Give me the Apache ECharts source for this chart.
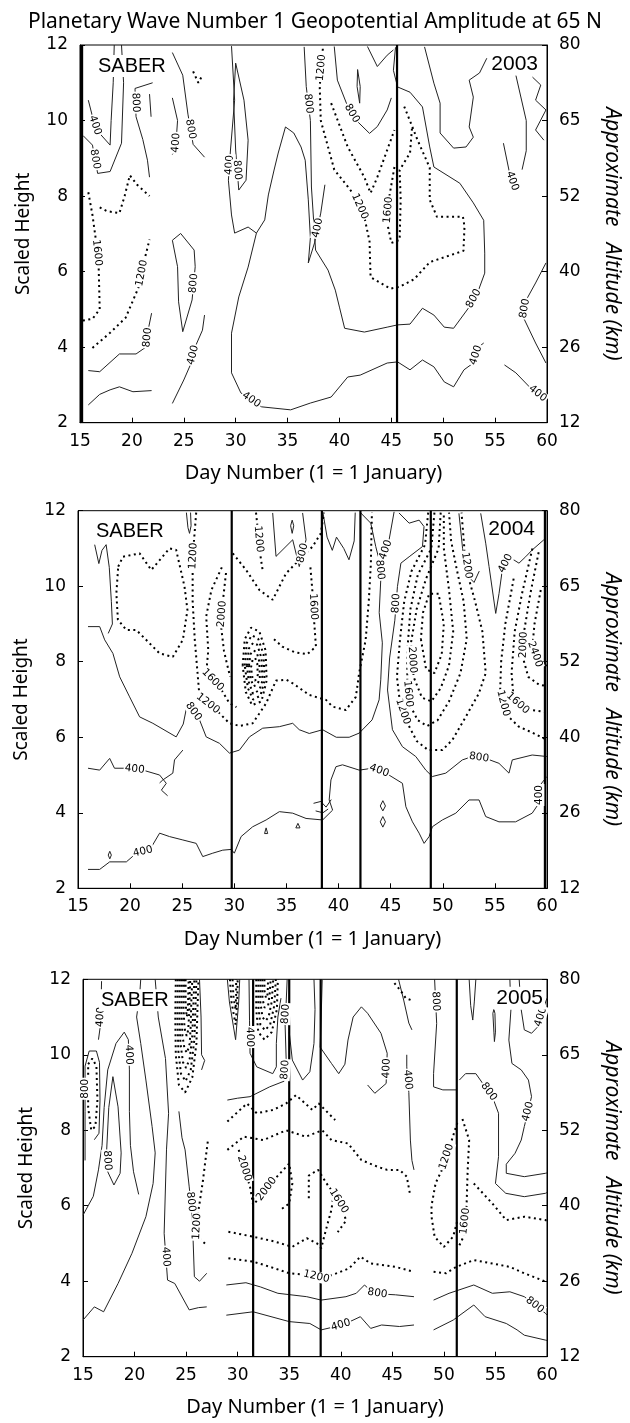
<!DOCTYPE html>
<html>
<head>
<meta charset="utf-8">
<script src="https://cdn.jsdelivr.net/npm/echarts@6/dist/echarts.min.js"></script>
<style>
  html, body { margin: 0; padding: 0; background: #fff; }
  #chart { width: 630px; height: 1423px; }
</style>
</head>
<body>
<div id="chart"></div>
<script>
// Right-hand altitude labels for scaled heights 2, 4, ..., 12
const altitudeKm = ['12', '26', '40', '52', '65', '80'];
const years = ['2003', '2004', '2005'];

// Days marked with vertical lines in each winter
const eventDays2003 = [15.2, 45.55];
const eventDays2004 = [29.75, 38.4, 42.1, 48.85, 59.8];
const eventDays2005 = [31.5, 35.0, 38.05, 51.25];

// Contours: [level (m), segments that carry the level label, [[day, scaled height], ...]]
const contours2003 = [
  [400, [], [[15.8,2.47],[16.9,2.75],[17.9,2.87],[18.8,2.95],[20.1,2.82],[21.9,2.85]]],
  [800, [4], [[15.8,3.38],[16.9,3.35],[18.8,3.82],[20.4,3.82],[21.4,4.01],[21.6,4.5],[21.9,4.9]]],
  [1200, [3], [[16.2,3.98],[17.9,4.38],[19.4,4.78],[20.7,5.62],[21.2,6.3],[21.7,6.85]]],
  [1600, [2], [[15.8,8.1],[16.2,7.5],[16.5,6.9],[16.8,6.1],[16.9,5.0],[16.2,4.75],[15.2,4.7]]],
  [1200, [], [[16.9,7.7],[17.6,7.6],[18.8,7.55],[19.3,8.0],[19.8,8.55],[20.5,8.3],[21.7,8.0]]],
  [400, [1], [[15.8,10.54],[16.3,10.0],[16.6,9.75],[17.9,9.35],[18.0,10.0],[18.2,11.0],[18.3,12.0]]],
  [800, [1], [[15.3,9.6],[16.2,9.35],[16.7,8.6],[17.9,8.65],[19.0,9.4],[19.2,11.0],[19.0,12.0]]],
  [800, [1], [[22.0,11.0],[20.3,10.85],[20.4,10.1],[21.05,9.5],[21.5,8.95],[21.7,8.5]]],
  [800, [], [[21.7,10.7],[21.85,10.1]]],
  [400, [2], [[23.9,10.6],[24.4,10.0],[24.3,9.6],[24.2,9.22],[23.9,9.1]]],
  [800, [2], [[23.9,11.8],[24.9,11.2],[25.4,10.17],[25.9,9.37],[27.0,9.03]]],
  [800, [3], [[23.9,6.83],[24.7,7.01],[26.0,6.57],[26.1,6.13],[25.8,5.25],[24.9,4.41],[24.5,5.2],[24.4,6.13],[23.9,6.83]]],
  [400, [2], [[23.9,2.51],[25.0,3.13],[25.7,3.57],[26.1,4.01],[26.8,4.45],[27.0,4.85]]],
  [1200, [], [[25.9,11.3],[26.4,11.0],[26.8,11.2]]],
  [400, [2, 12, 27], [[29.6,11.97],[29.9,10.54],[29.5,9.22],[29.3,8.42],[29.6,7.5],[29.9,7.02],[31.2,7.18],[32.0,7.02],[31.2,6.12],[30.3,5.33],[29.6,4.37],[29.6,3.32],[30.5,2.79],[32.5,2.42],[35.3,2.34],[37.2,2.52],[39.2,2.68],[40.8,3.21],[42.0,3.26],[44.6,3.58],[45.6,3.61],[46.8,3.4],[48.0,3.66],[49.1,3.48],[50.1,3.08],[51.0,2.95],[52.0,3.4],[52.9,3.58],[53.4,4.0],[53.9,4.11]]],
  [800, [4], [[30.0,11.52],[30.8,10.54],[31.2,9.48],[31.0,8.42],[30.3,8.16],[30.0,9.22],[29.8,10.54],[30.0,11.52]]],
  [400, [12], [[32.0,7.02],[32.8,7.37],[33.15,8.03],[33.7,8.69],[34.1,9.14],[34.8,9.83],[35.6,9.67],[36.3,9.3],[36.7,8.95],[37.0,7.9],[37.2,6.9],[37.0,6.23],[37.6,6.76],[38.2,7.55],[38.6,8.3]]],
  [800, [1, 17], [[36.6,11.95],[36.8,10.9],[37.2,10.0],[37.3,8.24],[37.7,6.57],[38.9,6.04],[39.6,5.51],[40.0,5.06],[40.5,4.5],[42.4,4.4],[44.6,4.53],[45.6,4.59],[46.8,4.61],[48.0,5.03],[49.1,4.85],[50.1,4.53],[51.0,4.5],[52.5,5.06],[53.4,5.51],[54.0,5.96],[54.0,6.49],[53.9,7.36],[52.9,7.82],[51.6,8.34],[49.1,8.77],[48.7,9.3],[48.0,10.36],[46.8,10.75],[45.6,10.89],[45.2,11.33],[45.4,11.94]]],
  [800, [2], [[39.5,11.96],[39.8,11.07],[40.8,10.37],[41.6,10.01],[42.9,9.66],[43.65,9.84],[44.6,10.28],[45.0,10.6]]],
  [800, [], [[41.75,11.35],[42.0,10.9],[41.95,10.46],[41.7,10.9],[41.75,11.35]]],
  [800, [], [[42.7,11.96],[43.65,11.43],[44.6,11.73],[45.2,11.87]]],
  [400, [], [[48.2,11.95],[49.1,10.99],[49.7,10.46],[49.7,9.67],[51.0,9.27],[52.2,9.3],[52.9,9.56],[52.5,9.83],[52.9,10.62],[52.5,11.07],[53.5,11.26],[54.2,11.65]]],
  [400, [1], [[55.8,9.4],[56.4,8.6],[56.9,8.2]]],
  [400, [], [[57.0,11.2],[58.0,10.0],[58.0,9.2],[57.6,8.7]]],
  [400, [], [[58.6,11.15],[59.4,10.94],[58.9,10.54],[59.9,10.28],[58.9,9.75],[59.7,9.48]]],
  [800, [2], [[59.9,6.23],[58.9,5.7],[58.0,5.25],[57.7,4.8],[58.9,4.11],[59.9,3.58]]],
  [400, [2], [[55.9,3.53],[57.0,3.32],[58.3,2.95],[59.9,2.6]]],
  [1200, [0, 5], [[38.4,11.9],[38.1,10.9],[38.2,10.0],[39.5,8.7],[40.8,8.25],[41.5,8.0],[42.4,7.45],[42.9,6.8],[43.0,5.85],[44.9,5.55],[45.8,5.6],[47.2,5.8],[48.7,6.25],[50.3,6.4],[51.95,6.55],[52.05,7.2],[51.9,7.45],[49.4,7.45],[48.7,7.9],[48.7,8.75],[47.5,9.5],[47.0,9.85],[46.2,10.4]]],
  [1600, [], [[39.2,10.46],[40.8,9.3],[42.4,8.5],[43.0,8.08],[43.65,8.5],[45.3,9.75]]],
  [1600, [1], [[45.3,8.77],[44.8,7.98],[44.6,7.29],[45.0,6.76],[45.8,6.84],[45.9,7.9],[45.8,8.69],[46.8,9.14],[47.0,9.83]]]
];

const contours2004 = [
  [400, [4, 28, 45], [[15.96,2.5],[17.08,2.5],[18.04,2.7],[19.64,2.7],[20.6,2.93],[21.87,3.01],[22.83,3.46],[23.78,3.37],[25.06,3.28],[26.34,3.19],[26.97,2.84],[27.93,2.93],[28.89,3.01],[29.7,3.03],[30.0,2.93],[30.65,3.37],[31.76,3.63],[33.05,3.81],[34.32,4.03],[35.6,3.99],[36.88,3.85],[38.47,3.81],[39.43,4.07],[39.1,4.34],[39.27,4.87],[39.75,5.22],[40.38,5.27],[41.98,5.13],[43.26,5.18],[44.54,5.05],[46.13,4.78],[46.46,4.16],[47.09,3.76],[47.73,3.46],[48.21,3.19],[48.69,3.37],[49.0,3.63],[49.96,3.81],[51.25,3.99],[52.52,4.34],[53.48,4.34],[54.12,3.9],[55.39,3.76],[56.99,3.76],[58.58,3.99],[59.22,4.25],[59.22,4.69],[59.99,4.96]]],
  [400, [4], [[15.96,5.18],[17.08,5.13],[18.04,5.44],[18.5,5.18],[19.64,5.18],[21.23,5.13],[22.83,5.0],[23.47,4.78],[23.0,4.6],[23.6,4.45]]],
  [800, [10, 31], [[15.96,8.93],[17.08,8.93],[17.56,8.58],[18.35,8.22],[19.0,7.6],[19.95,7.07],[20.91,6.54],[22.18,6.37],[24.42,6.01],[25.1,6.35],[25.5,6.9],[26.66,6.46],[27.3,6.01],[28.57,5.84],[29.53,5.58],[30.49,5.66],[31.45,6.01],[32.72,6.24],[34.32,6.28],[35.6,6.37],[36.23,6.2],[37.19,6.1],[38.47,6.2],[39.78,6.0],[41.02,6.0],[41.98,6.11],[43.22,6.46],[43.89,6.99],[44.05,7.52],[44.2,8.5],[43.9,9.3],[44.05,10.17],[43.89,10.7],[43.57,11.05],[43.09,11.67],[42.13,11.94]]],
  [800, [], [[25.06,5.66],[24.26,5.4],[24.1,5.05],[23.14,4.87],[22.83,4.79]]],
  [800, [7, 18], [[45.8,11.94],[46.77,11.67],[47.73,11.75],[48.2,11.58],[48.05,11.05],[46.77,10.78],[45.98,10.61],[45.65,9.99],[45.4,9.1],[44.9,8.1],[44.7,7.25],[45.17,6.2],[46.13,5.75],[47.41,5.49],[48.37,5.13],[49.0,4.96],[50.29,5.05],[51.88,5.4],[52.84,5.49],[54.12,5.44],[55.39,5.31],[56.35,5.05],[56.67,5.4],[58.58,5.53],[59.99,5.49]]],
  [400, [1], [[45.33,11.97],[44.85,11.23],[44.2,10.7],[43.95,10.2]]],
  [400, [5], [[53.64,11.93],[54.12,11.14],[54.44,10.52],[55.08,9.28],[55.4,9.81],[55.71,10.43],[56.35,10.78],[57.31,10.61],[57.95,10.78],[58.58,10.96],[59.7,11.23]]],
  [800, [1], [[51.55,11.93],[51.9,11.0],[52.3,10.3],[53.0,10.1],[53.5,10.4]]],
  [800, [3], [[33.68,11.94],[34.0,10.79],[35.6,11.23],[36.23,10.52],[36.88,11.23],[36.55,11.94]]],
  [800, [], [[35.4,11.6],[35.55,11.4],[35.7,11.6],[35.55,11.75],[35.4,11.6]]],
  [800, [], [[38.5,11.95],[38.9,11.3],[39.4,10.95],[39.8,11.3],[40.5,11.0],[41.0,10.7],[41.5,11.2],[41.6,11.95]]],
  [800, [], [[25.4,11.95],[25.55,11.55],[25.7,11.4],[25.85,11.6],[25.8,11.95]]],
  [400, [], [[16.6,11.1],[17.0,10.6],[17.3,10.95],[17.7,11.1]]],
  [800, [], [[17.7,11.1],[18.0,10.5],[18.2,9.6],[18.3,9.0],[17.9,8.75]]],
  [1200, [], [[18.86,10.52],[19.31,10.78],[20.91,10.87],[22.03,10.43],[23.78,11.0],[24.42,10.96],[25.22,9.99],[25.5,9.37],[25.06,8.58],[24.1,8.13],[22.83,8.22],[20.6,8.84],[19.64,8.84],[18.83,9.11],[18.68,9.81],[18.86,10.52]]],
  [1200, [1, 6], [[26.34,11.95],[26.1,11.1],[26.0,10.5],[26.0,9.6],[26.2,8.6],[26.5,7.6],[26.66,7.07],[28.26,6.72],[29.53,6.37],[30.5,6.3],[31.76,6.37],[32.4,6.63],[33.05,6.9],[34.0,7.5],[35.0,7.52],[35.6,7.43],[37.19,7.12],[38.79,6.99],[39.43,6.81],[40.7,6.72],[41.66,7.07],[41.97,7.69],[42.6,8.58],[42.9,9.6],[43.1,10.6],[43.2,11.95]]],
  [1600, [4], [[28.8,10.5],[27.8,9.9],[27.3,9.2],[27.5,8.3],[27.3,7.7],[28.57,7.34],[29.53,6.9],[30.2,6.8]]],
  [2000, [1], [[29.2,10.35],[28.9,9.6],[28.73,8.93],[29.0,8.3],[29.2,8.05],[29.6,7.6]]],
  [1200, [], [[29.85,10.87],[31.13,10.43],[32.4,9.9],[33.68,9.64],[34.96,10.34],[36.23,10.7],[37.51,11.05],[38.3,11.4],[38.6,11.95]]],
  [1200, [1], [[32.08,11.95],[32.25,11.5],[32.4,11.0],[32.7,10.45]]],
  [1600, [1], [[37.3,10.5],[37.51,9.81],[37.65,9.1],[37.83,8.4],[37.0,8.2],[35.8,8.25],[34.6,8.4],[33.8,8.6]]],
  [2400, [], [[30.8,7.9],[31.0,8.6],[31.6,8.9],[32.4,8.8],[33.0,8.3],[33.1,7.5],[32.6,6.95],[31.7,6.85],[31.1,7.2],[30.8,7.9]]],
  [2800, [], [[31.0,7.9],[31.2,8.5],[31.7,8.7],[32.3,8.6],[32.8,8.2],[32.9,7.5],[32.5,7.1],[31.8,7.0],[31.3,7.3],[31.0,7.9]]],
  [3200, [], [[31.2,7.9],[31.4,8.35],[31.8,8.5],[32.2,8.45],[32.6,8.1],[32.7,7.5],[32.4,7.25],[31.8,7.15],[31.4,7.45],[31.2,7.9]]],
  [3600, [], [[31.4,7.9],[31.55,8.2],[31.85,8.3],[32.15,8.25],[32.4,8.0],[32.45,7.55],[32.2,7.4],[31.85,7.35],[31.55,7.55],[31.4,7.9]]],
  [4000, [], [[31.6,7.85],[31.75,8.05],[32.0,8.1],[32.2,7.95],[32.25,7.65],[32.0,7.5],[31.75,7.55],[31.6,7.85]]],
  [1200, [6, 17], [[48.6,11.95],[48.3,11.1],[47.0,10.4],[46.3,9.6],[45.9,8.6],[45.6,7.6],[45.9,6.9],[46.45,6.46],[47.5,5.9],[48.6,5.66],[49.96,5.66],[50.92,5.93],[52.2,6.54],[53.46,7.16],[54.12,7.7],[53.8,8.8],[53.1,9.6],[52.5,10.2],[52.1,10.9],[51.8,11.95]]],
  [1600, [5], [[49.2,11.95],[48.9,11.0],[47.6,10.3],[46.9,9.4],[46.6,8.3],[46.6,7.4],[46.76,6.9],[47.6,6.45],[48.5,6.3],[49.5,6.45],[50.6,6.95],[51.7,7.7],[52.3,8.6],[52.0,9.6],[51.3,10.5],[50.8,11.2],[50.6,11.95]]],
  [2000, [4], [[49.8,11.95],[49.6,11.0],[48.4,10.2],[47.5,9.4],[46.95,8.5],[47.2,7.6],[48.0,7.05],[48.9,6.95],[49.8,7.3],[50.6,7.9],[51.0,8.8],[50.6,9.9],[50.1,11.0],[50.1,11.95]]],
  [2400, [], [[47.9,8.6],[48.4,7.8],[49.2,7.7],[49.9,8.2],[50.1,9.0],[49.6,9.8],[48.7,9.8],[48.1,9.3],[47.9,8.6]]],
  [1200, [3], [[56.8,10.2],[56.0,9.0],[55.6,8.0],[55.5,7.2],[56.1,6.6],[57.3,6.28],[58.6,6.12],[60.0,5.93]]],
  [1600, [4], [[58.6,11.0],[57.6,9.8],[56.9,8.8],[56.6,7.7],[56.8,7.0],[57.6,6.8],[58.25,6.73],[59.9,6.67]]],
  [2000, [2], [[59.2,10.9],[58.4,9.8],[57.8,8.8],[57.7,8.1],[58.2,7.6],[59.2,7.4],[60.0,7.35]]],
  [2400, [2], [[59.4,9.9],[58.8,9.0],[58.6,8.4],[59.1,8.0],[60.0,7.9]]],
  [400, [], [[44.0,4.18],[44.25,4.32],[44.5,4.18],[44.25,4.05],[44.0,4.18]]],
  [400, [], [[44.0,3.76],[44.25,3.9],[44.5,3.76],[44.25,3.62],[44.0,3.76]]],
  [400, [], [[32.9,3.45],[33.2,3.45],[33.05,3.6],[32.9,3.45]]],
  [400, [], [[35.9,3.6],[36.3,3.6],[36.1,3.72],[35.9,3.6]]],
  [400, [], [[17.9,2.88],[18.05,2.98],[18.2,2.88],[18.05,2.78],[17.9,2.88]]],
  [400, [], [[37.6,4.25],[38.3,4.3],[38.8,4.15],[39.3,4.35]]],
  [400, [], [[37.8,4.05],[38.5,4.0],[39.0,4.1]]]
];

const contours2005 = [
  [400, [8], [[15.0,5.75],[16.0,6.25],[16.5,6.95],[16.85,7.6],[17.05,8.6],[17.4,9.6],[18.2,10.3],[19.0,10.6],[19.4,10.4],[19.5,9.6],[19.5,8.5],[19.6,7.6],[19.9,6.9],[20.4,6.3]]],
  [400, [], [[15.0,2.97],[16.1,3.32],[17.0,3.19],[18.4,3.94],[19.75,4.74],[21.1,5.71],[21.8,6.59],[22.0,7.4],[21.7,8.1],[21.1,9.33],[20.6,10.3],[20.2,11.0],[20.5,11.6],[20.6,12.0]]],
  [800, [5], [[17.9,9.42],[18.4,8.62],[18.7,7.4],[18.6,6.86],[18.0,6.55],[17.4,6.9],[17.3,7.5],[17.5,8.6],[17.9,9.42]]],
  [400, [5], [[22.0,12.0],[22.3,11.0],[23.0,9.9],[23.3,8.45],[23.1,7.5],[22.87,5.27],[23.2,4.03],[23.9,3.94],[25.3,3.24],[26.2,3.3],[27.0,3.32]]],
  [800, [3], [[24.3,8.5],[24.6,7.8],[24.9,7.48],[25.3,6.5],[25.6,5.71],[25.8,4.12],[26.3,4.0],[27.0,4.21]]],
  [1200, [2], [[27.1,7.7],[26.6,6.6],[26.1,5.7],[26.0,5.2],[27.0,4.96]]],
  [800, [1], [[15.2,7.2],[15.2,8.5],[15.2,9.7],[15.6,10.1],[16.3,10.1],[16.6,9.8],[16.65,8.8],[16.55,7.92],[16.1,7.75]]],
  [1200, [], [[15.5,9.75],[15.9,9.9],[16.3,9.7],[16.4,8.8],[16.2,8.1],[15.8,8.0],[15.5,8.6],[15.5,9.75]]],
  [400, [1], [[16.8,11.95],[16.75,11.3],[16.65,10.7],[16.5,10.4]]],
  [2000, [], [[24.0,12.0],[23.95,11.0],[24.0,10.0],[24.3,9.2],[24.9,9.0],[25.6,9.4],[26.0,10.3],[26.1,11.2],[26.2,12.0]]],
  [2400, [], [[24.2,12.0],[24.15,11.0],[24.25,10.1],[24.5,9.5],[24.95,9.3],[25.45,9.6],[25.8,10.4],[25.9,11.2],[26.0,12.0]]],
  [2800, [], [[24.4,12.0],[24.35,11.0],[24.45,10.3],[24.7,9.8],[25.0,9.65],[25.35,9.9],[25.6,10.5],[25.7,11.3],[25.8,12.0]]],
  [3200, [], [[24.6,12.0],[24.55,11.1],[24.65,10.5],[24.85,10.15],[25.1,10.05],[25.35,10.3],[25.45,10.8],[25.5,11.4],[25.6,12.0]]],
  [3600, [], [[24.8,12.0],[24.75,11.2],[24.85,10.7],[25.05,10.5],[25.2,10.65],[25.3,11.1],[25.35,11.6],[25.4,12.0]]],
  [4000, [], [[24.95,12.0],[24.95,11.4],[25.05,11.0],[25.15,11.1],[25.2,11.5],[25.25,12.0]]],
  [800, [], [[26.3,12.0],[26.45,11.0],[26.5,10.0],[26.8,9.85],[26.5,9.6]]],
  [400, [1], [[31.1,12.0],[31.15,10.9],[31.2,10.04],[31.85,9.68],[33.4,9.5],[33.75,9.68],[33.75,10.3],[33.9,11.0],[34.2,11.5]]],
  [2000, [], [[31.8,12.0],[31.8,11.2],[32.0,10.6],[32.6,10.4],[33.3,10.6],[33.8,11.2],[33.9,12.0]]],
  [2400, [], [[32.0,12.0],[32.0,11.3],[32.2,10.8],[32.65,10.65],[33.15,10.8],[33.55,11.3],[33.7,12.0]]],
  [2800, [], [[32.2,12.0],[32.2,11.4],[32.4,11.0],[32.7,10.9],[33.0,11.0],[33.3,11.4],[33.45,12.0]]],
  [3200, [], [[32.4,12.0],[32.4,11.5],[32.6,11.25],[32.75,11.2],[32.95,11.3],[33.1,11.6],[33.2,12.0]]],
  [3600, [], [[32.6,12.0],[32.6,11.7],[32.75,11.5],[32.9,11.6],[32.95,12.0]]],
  [400, [], [[29.0,12.0],[29.2,11.4],[29.8,10.4],[30.1,11.4],[30.2,12.0]]],
  [1200, [], [[29.25,12.0],[29.4,11.4],[29.8,10.8],[29.95,11.4],[30.0,12.0]]],
  [1600, [], [[29.5,12.0],[29.6,11.5],[29.8,11.2],[29.85,11.6],[29.85,12.0]]],
  [800, [4, 6], [[29.0,8.8],[30.0,8.85],[31.2,8.89],[33.1,9.15],[34.5,9.3],[34.7,9.9],[34.6,10.8],[34.7,11.36],[34.8,12.0]]],
  [400, [], [[35.0,10.6],[35.3,9.86],[36.3,9.33],[37.0,9.55],[37.4,10.3],[37.5,11.2],[37.4,12.0]]],
  [400, [11], [[38.2,12.0],[38.1,11.0],[38.0,10.2],[39.1,9.77],[39.8,9.5],[40.4,9.75],[40.7,10.39],[41.2,11.0],[42.0,11.27],[42.6,11.1],[43.9,10.57],[44.5,10.04],[44.4,9.24],[43.3,8.98],[42.6,9.2]]],
  [400, [1], [[46.4,10.0],[46.4,9.68],[46.6,9.0],[46.75,7.74],[46.9,7.2],[47.1,6.95]]],
  [400, [], [[45.6,12.0],[46.1,11.45],[46.6,10.84],[46.9,10.66]]],
  [1200, [], [[45.2,11.9],[45.8,11.7],[46.3,11.5],[46.8,11.45]]],
  [800, [0], [[49.1,12.0],[49.3,10.83],[49.0,9.5],[49.0,9.15],[49.9,9.07],[51.2,9.07]]],
  [800, [3], [[51.5,9.33],[52.1,9.5],[53.1,9.5],[54.0,9.15],[54.7,8.89],[55.3,8.45],[55.3,7.3],[55.0,6.59],[56.0,6.33],[57.8,6.24],[59.85,6.33],[60.0,6.35]]],
  [400, [6], [[56.4,12.0],[56.5,11.19],[56.3,10.39],[56.6,9.77],[57.5,9.6],[58.2,9.33],[58.5,8.89],[57.8,8.1],[57.5,7.74],[56.9,7.39],[56.05,7.1],[56.05,6.86],[57.8,6.77],[59.85,6.86],[60.0,6.87]]],
  [400, [4], [[57.3,12.0],[57.5,11.19],[57.8,10.66],[58.5,10.57],[59.1,10.74],[59.7,11.27],[60.0,11.5]]],
  [400, [], [[52.45,12.0],[52.6,11.3],[52.8,10.92],[52.95,11.4],[53.1,12.0]]],
  [400, [], [[54.75,11.1],[54.85,10.6],[54.9,10.35],[55.0,10.6],[54.95,11.1],[54.85,11.2],[54.75,11.1]]],
  [1200, [1], [[51.3,8.2],[50.6,7.6],[49.9,7.0],[49.2,6.6],[48.8,6.0],[48.8,5.71],[49.1,5.18],[50.0,4.91],[50.9,5.18],[51.3,5.6]]],
  [1600, [3], [[51.8,8.3],[52.45,7.74],[52.3,6.9],[52.2,6.0],[51.9,5.18],[51.5,4.95]]],
  [1200, [], [[52.9,6.59],[54.7,6.06],[56.05,5.62],[57.8,5.71],[59.85,5.62],[60.0,5.6]]],
  [1200, [], [[49.0,4.25],[50.2,4.21],[51.2,4.38],[52.9,4.56],[54.7,4.47],[56.4,4.38],[57.8,4.21],[59.85,3.99],[60.0,3.97]]],
  [800, [5], [[49.0,3.5],[50.5,3.68],[52.9,3.9],[54.7,3.68],[56.4,3.72],[57.8,3.59],[59.85,3.15],[60.0,3.1]]],
  [400, [], [[49.0,2.71],[50.9,2.97],[52.9,3.37],[54.0,3.06],[56.05,2.88],[57.1,2.71],[57.8,2.57],[59.85,2.44],[60.0,2.43]]],
  [400, [5], [[28.9,3.1],[31.5,3.19],[35.0,2.93],[37.0,2.88],[38.1,2.71],[39.5,2.8],[40.5,2.88],[41.9,3.06],[42.9,2.75],[43.96,2.84],[45.7,2.8],[47.1,2.84]]],
  [800, [9], [[28.9,3.9],[30.8,3.96],[32.2,3.85],[33.9,3.68],[36.7,3.59],[38.1,3.5],[40.5,3.59],[41.5,3.68],[42.3,3.9],[43.1,3.7],[44.0,3.66],[45.3,3.64],[47.1,3.59]]],
  [1200, [4], [[29.1,4.61],[31.5,4.52],[33.5,4.35],[35.0,4.21],[37.0,4.16],[38.25,4.08],[39.5,4.2],[40.8,4.34],[41.9,4.65],[42.9,4.47],[45.3,4.38],[47.1,4.25]]],
  [1600, [], [[29.1,5.31],[31.5,5.18],[33.6,5.05],[35.3,4.91],[36.7,5.14],[37.7,5.0],[38.1,4.87],[38.5,5.3],[39.1,5.9],[39.4,6.5]]],
  [1600, [4], [[36.9,6.2],[36.9,6.8],[37.8,6.95],[38.6,6.6],[39.4,6.3],[40.2,5.95],[40.5,5.6],[39.7,5.3]]],
  [2000, [0, 3], [[30.1,7.48],[31.2,6.5],[31.5,6.02],[32.4,6.3],[33.2,6.59],[35.0,7.12],[35.3,6.59],[35.0,6.06],[34.2,5.9]]],
  [1200, [], [[29.0,8.23],[30.9,8.71],[31.85,8.45],[33.45,8.54],[34.7,8.71],[35.66,8.93],[37.24,8.54],[37.87,8.71],[38.8,8.45],[39.46,8.27]]],
  [1600, [], [[29.0,7.48],[30.6,7.83],[32.5,7.74],[34.7,8.0],[36.6,7.83],[38.2,8.0],[39.1,7.74],[40.7,7.65],[42.0,7.21],[43.6,7.03],[44.5,6.95],[45.7,6.95],[46.4,6.77],[46.7,6.33]]]
];

const TEXT_FONT = "'Noto Sans', 'DejaVu Sans', sans-serif";
const NUM_FONT = "'DejaVu Sans', sans-serif";
const TAG_FONT = "'Liberation Sans', Arial, sans-serif";

const panels = [
  { year: years[0], events: eventDays2003, contours: contours2003, box: { left: 80, top: 45, width: 471, height: 377.7 } },
  { year: years[1], events: eventDays2004, contours: contours2004, box: { left: 78, top: 510.7, width: 470, height: 377.6 } },
  { year: years[2], events: eventDays2005, contours: contours2005, box: { left: 83, top: 979.3, width: 473, height: 377.4 } }
];

const chart = echarts.init(document.getElementById('chart'), null, { renderer: 'canvas' });

function buildOption(labelSeries) {
  const grid = [], xAxis = [], yAxis = [], series = [], graphic = [];
  panels.forEach((p, i) => {
    const b = p.box;
    grid.push({ left: b.left, top: b.top, width: b.width, height: b.height, show: true, borderColor: '#000', borderWidth: 1, backgroundColor: '#fff' });
    xAxis.push({
      type: 'value', gridIndex: i, min: 15, max: 60, interval: 5,
      axisLine: { show: true, onZero: false, lineStyle: { color: '#000', width: 1 } },
      axisTick: { show: true, inside: true, length: 5, lineStyle: { color: '#000' } },
      axisLabel: { color: '#000', fontSize: 17, fontFamily: NUM_FONT, margin: 10 },
      splitLine: { show: false },
      name: 'Day Number (1 = 1 January)', nameLocation: 'middle', nameGap: 41,
      nameTextStyle: { color: '#000', fontSize: 20, fontFamily: TEXT_FONT }
    });
    yAxis.push({
      type: 'value', gridIndex: i, min: 2, max: 12, interval: 2, position: 'left',
      axisLine: { show: true, onZero: false, lineStyle: { color: '#000', width: 1 } },
      axisTick: { show: true, inside: true, length: 5, lineStyle: { color: '#000' } },
      axisLabel: { color: '#000', fontSize: 17, fontFamily: NUM_FONT, margin: 12 },
      splitLine: { show: false },
      name: 'Scaled Height', nameLocation: 'middle', nameRotate: 90, nameGap: 47,
      nameTextStyle: { color: '#000', fontSize: 19, fontFamily: TEXT_FONT }
    });
    yAxis.push({
      type: 'value', gridIndex: i, min: 2, max: 12, interval: 2, position: 'right',
      axisLine: { show: true, onZero: false, lineStyle: { color: '#000', width: 1 } },
      axisTick: { show: true, inside: true, length: 5, lineStyle: { color: '#000' } },
      axisLabel: { color: '#000', fontSize: 17, fontFamily: NUM_FONT, margin: 12,
        formatter: v => altitudeKm[Math.round((v - 2) / 2)] },
      splitLine: { show: false },
      name: 'Approximate   Altitude (km)', nameLocation: 'middle', nameRotate: -90, nameGap: 54,
      nameTextStyle: { color: '#000', fontSize: 21, fontStyle: 'italic', fontFamily: TEXT_FONT }
    });

    p.contours.forEach(([level, , pts]) => {
      const dotted = level >= 1200;
      series.push({
        type: 'line', xAxisIndex: i, yAxisIndex: 2 * i, data: pts,
        symbol: 'none', silent: true, animation: false, clip: true, z: 2,
        lineStyle: dotted
          ? { color: '#000', width: 2, type: [2, 3.5], cap: 'butt' }
          : { color: '#222', width: 1 }
      });
    });
    p.events.forEach(d => {
      series.push({
        type: 'line', xAxisIndex: i, yAxisIndex: 2 * i, data: [[d, 2], [d, 12]],
        symbol: 'none', silent: true, animation: false, z: 4,
        lineStyle: { color: '#000', width: 2.2 }
      });
    });

    graphic.push({
      type: 'text', z: 100, x: b.left + 16, y: b.top + 21,
      style: { text: 'SABER', fontSize: 20, fontFamily: TAG_FONT, fill: '#000',
        align: 'left', verticalAlign: 'middle', backgroundColor: '#fff', padding: [1, 2] }
    });
    graphic.push({
      type: 'text', z: 100, x: b.left + b.width - 11, y: b.top + 19,
      style: { text: p.year, fontSize: 21, fontFamily: TAG_FONT, fill: '#000',
        align: 'right', verticalAlign: 'middle', backgroundColor: '#fff', padding: [1, 2] }
    });
  });

  return {
    backgroundColor: '#fff',
    animation: false,
    title: {
      text: 'Planetary Wave Number 1 Geopotential Amplitude at 65 N',
      left: 'center', top: 7,
      textStyle: { color: '#000', fontSize: 21, fontWeight: 'normal', fontFamily: TEXT_FONT }
    },
    grid, xAxis, yAxis, graphic,
    series: series.concat(labelSeries || [])
  };
}

chart.setOption(buildOption());

// Contour level labels, laid along each labelled segment using the axes' own pixel mapping
const labelSeries = panels.map((p, i) => {
  const toPx = pt => [
    chart.convertToPixel({ xAxisIndex: i }, pt[0]),
    chart.convertToPixel({ yAxisIndex: 2 * i }, pt[1])
  ];
  const data = [];
  p.contours.forEach(([level, segs, pts]) => {
    segs.forEach(k => {
      const a = pts[k], c = pts[k + 1];
      if (!a || !c) return;
      const pa = toPx(a), pc = toPx(c);
      let ang = Math.atan2(-(pc[1] - pa[1]), pc[0] - pa[0]) * 180 / Math.PI;
      if (ang > 90) ang -= 180;
      if (ang < -90) ang += 180;
      data.push({
        value: [(a[0] + c[0]) / 2, (a[1] + c[1]) / 2],
        label: { rotate: Math.round(ang), formatter: String(level) }
      });
    });
  });
  return {
    type: 'scatter', xAxisIndex: i, yAxisIndex: 2 * i, data,
    symbol: 'circle', symbolSize: 2, itemStyle: { color: 'rgba(0,0,0,0)' },
    silent: true, animation: false, z: 6,
    labelLayout: { hideOverlap: false },
    label: {
      show: true, position: 'inside', color: '#000', opacity: 1, fontSize: 10.5,
      fontFamily: NUM_FONT, backgroundColor: '#fff', padding: [0, 1]
    }
  };
});

chart.setOption(buildOption(labelSeries), true);
</script>
</body>
</html>
